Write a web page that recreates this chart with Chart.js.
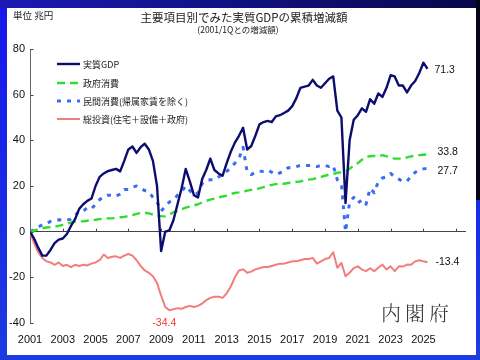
<!DOCTYPE html>
<html><head><meta charset="utf-8">
<script src="https://cdn.jsdelivr.net/npm/chart.js@4/dist/chart.umd.min.js"></script>
<style>
html,body{margin:0;padding:0;}
body{width:480px;height:360px;position:relative;overflow:hidden;background:linear-gradient(to bottom,#1616ec,#1c3ce0);}
#topband{position:absolute;left:0;top:0;width:480px;height:8px;background:linear-gradient(to right,#1a1ab4,#07074a);}
#rightstrip{position:absolute;left:476px;top:0;width:4px;height:200px;background:#05051a;}
#panel{position:absolute;left:7px;top:8px;width:469px;height:347px;background:#fff;}
canvas{position:absolute;left:0;top:0;}
.t{position:absolute;font-family:"Noto Sans CJK JP",sans-serif;color:#222;white-space:nowrap;line-height:1;}
#unit{left:13px;top:11px;font-size:9.5px;}
#title{left:0;width:488px;text-align:center;top:12px;font-size:11.5px;}
#subtitle{left:0;width:476px;text-align:center;top:25px;font-size:8.5px;}
#cao{left:381px;top:303px;font-size:20px;letter-spacing:4px;color:#333;font-family:"Noto Serif CJK JP","Noto Sans CJK JP",serif;font-weight:300;}
</style></head>
<body>
<div id="topband"></div><div id="rightstrip"></div><div id="panel"></div>
<canvas id="c" width="480" height="360"></canvas>
<div class="t" id="unit">単位 兆円</div>
<div class="t" id="title">主要項目別でみた実質GDPの累積増減額</div>
<div class="t" id="subtitle">(2001/1Qとの増減額)</div>
<div class="t" id="cao">内閣府</div>
<script>
const startYear = 2001; // 2001 Q1, quarterly series
const seriesNames = ['実質GDP', '政府消費', '民間消費(帰属家賃を除く)', '総投資(住宅＋設備＋政府)'];
const tickYears = [2001,2003,2005,2007,2009,2011,2013,2015,2017,2019,2021,2023,2025,2027];
const yTicks = [-40,-20,0,20,40,60,80];

const gdp = [
 0,-3,-7,-10.5, -10.5,-8,-5,-3.5, -3,-1,2.5,5.5, 10,12,13.5,14.5,
 20,24,25.5,26.5, 27,27.5,26.4,31, 36,37.3,34.5,37, 38.5,36,31,20,
 -8.5,0,0.5,5, 12,19,27.5,22, 16,15,23,27, 32,27,25.5,24.5,
 30,35,39,42, 45.5,36,37.5,42, 47,48,48.5,48, 50.5,51,52,53,
 55,58.5,63,63.5, 64,66.5,64,63, 65,67,68,53, 50,12.5,40,49,
 51,54,52.5,58, 56,60.5,59,63, 68.5,68,64,64, 61,64,66,69.5,
 74,71.3
];
const govConsumption = [
 0,0.5,1,1.5, 1.8,2,2.3,2.5, 3,3.5,4,4.3, 4.5,4.5,4.8,5,
 5.2,5.5,5.7,5.8, 5.8,6,6.3,6.5, 6.8,7.2,7.8,8.2, 8.3,8,7.5,7,
 6.8,6.7,7.5,8.5, 9,9.8,10.5,11, 11.5,12,12.8,13.5, 14,14.5,15,15.4,
 15.8,16.5,17,17.2, 17.5,18,18.3,18.5, 19,19.5,20,20.5, 20.8,21,21,21.3,
 21.5,21.8,22,22.5, 22.8,23,23.5,24, 24.5,25,25.3,25.8, 26,26.4,27.5,29,
 30,31.5,32.8,33, 33.2,33,33.5,33, 32.5,32,32,32, 32.5,33,33.2,33.5,
 33.7,33.8
];
const privateConsumption = [
 0,1,2,3, 3.5,4.5,5,5.2, 5,5,5.5,7, 9,9,10.5,10,
 12,14,15.5,16, 16,15.5,16.5,18.5, 18.5,19.5,20,19, 18,17.5,15,13,
 9,11,13,14, 16,17.5,20,18, 16,17,21,22.5, 22.7,22.7,24,25,
 26.4,28,30,32, 37,26,25,26, 26.4,26.5,27,26, 25,25.8,26.5,28,
 28,28.5,29,29, 29,29,28.5,29, 29,28.5,29,22.7, 21,0,13,15,
 12.5,14,12,19, 17,22,23.5,24, 25.5,24,23,22, 22,24.5,26,27,
 27.5,27.7
];
const investment = [
 0,-5,-9,-11.5, -13,-13.5,-14.5,-13.5, -15,-14.5,-15.5,-14.5, -15,-14.5,-14.8,-14,
 -13.5,-12.5,-10,-11.5, -11,-10.8,-11.5,-10.5, -9.8,-10.5,-12.5,-15, -17,-18,-19.5,-22.5,
 -28,-33,-34.4,-34, -33.5,-33.8,-33,-32.5, -33,-32.5,-31.5,-30, -29,-28.5,-28.5,-29,
 -27,-24,-20,-17, -16.5,-18,-17.5,-16.5, -16,-15.5,-15.5,-15, -14.5,-14,-14,-13.5,
 -13,-13,-12.5,-12, -12,-11.5,-14,-13, -12,-11.5,-9,-15.8, -13.7,-19.5,-18,-16,
 -15.2,-16.6,-17.3,-16, -17.3,-15.8,-14.4,-16.6, -15.2,-17.3,-15.2,-15.3, -14.4,-14.5,-13,-12.5,
 -13,-13.4
];

const toPoints = arr => arr.map((v, i) => ({x: startYear + i / 4, y: v}));
const numFont = '"Liberation Sans Narrow","Arial Narrow",sans-serif';
const jpFont = '"Noto Sans CJK JP",sans-serif';

const endLabelOffsets = [{dx:7,dy:1},{dx:10,dy:-2},{dx:10,dy:3},{dx:8,dy:0}];
const legendRows = [64, 83, 101, 119];

const decor = {
  id: 'decor',
  afterDatasetsDraw(chart) {
    const c = chart.ctx, xs = chart.scales.x, ys = chart.scales.y;
    const y0 = ys.getPixelForValue(0);
    c.save();
    c.strokeStyle = '#444'; c.lineWidth = 1;
    tickYears.forEach(v => {
      if (v === startYear) return;
      const px = Math.round(xs.getPixelForValue(v)) + 0.5;
      c.beginPath(); c.moveTo(px, y0 - 3); c.lineTo(px, y0); c.stroke();
    });
    const xl = Math.round(xs.left) + 0.5;
    yTicks.forEach(v => {
      const py = Math.round(ys.getPixelForValue(v)) + 0.5;
      c.beginPath(); c.moveTo(xl, py); c.lineTo(xl + 3, py); c.stroke();
    });
    chart.data.datasets.forEach((ds, i) => {
      const y = legendRows[i];
      c.strokeStyle = ds.borderColor; c.lineWidth = ds.borderWidth;
      c.setLineDash(ds.borderDash || []);
      c.beginPath(); c.moveTo(57, y); c.lineTo(80, y); c.stroke();
      c.setLineDash([]);
      c.fillStyle = '#222'; c.font = '9px ' + jpFont;
      c.textBaseline = 'middle'; c.textAlign = 'left';
      c.fillText(ds.label, 83, y + 0.5);
    });
    c.font = '10.5px ' + numFont; c.fillStyle = '#111';
    chart.data.datasets.forEach((ds, i) => {
      const last = ds.data[ds.data.length - 1];
      const px = xs.getPixelForValue(last.x), py = ys.getPixelForValue(last.y);
      const o = endLabelOffsets[i];
      c.fillText(last.y.toFixed(1), px + o.dx, py + o.dy);
    });
    const inv = chart.data.datasets[3].data;
    let m = inv[0];
    inv.forEach(p => { if (p.y < m.y) m = p; });
    c.fillStyle = '#e83a30'; c.textAlign = 'center';
    c.fillText(m.y.toFixed(1), xs.getPixelForValue(m.x) - 5, ys.getPixelForValue(m.y) + 13);
    c.restore();
  }
};

new Chart(document.getElementById('c'), {
  type: 'line',
  data: {
    datasets: [
      {label: seriesNames[0], data: toPoints(gdp), borderColor: '#0d0d70', borderWidth: 2.4},
      {label: seriesNames[1], data: toPoints(govConsumption), borderColor: '#2ede2e', borderWidth: 2.4, borderDash: [8, 5]},
      {label: seriesNames[2], data: toPoints(privateConsumption), borderColor: '#3a6ef0', borderWidth: 3, borderDash: [4, 6]},
      {label: seriesNames[3], data: toPoints(investment), borderColor: '#f27d7d', borderWidth: 2}
    ]
  },
  options: {
    responsive: false, animation: false,
    layout: {padding: {left: 0, right: 14, top: 49, bottom: 0}},
    elements: {point: {radius: 0}, line: {tension: 0, borderJoinStyle: 'round'}},
    plugins: {legend: {display: false}, tooltip: {enabled: false}},
    scales: {
      x: {
        type: 'linear', min: 2001, max: 2027.6,
        afterBuildTicks: ax => { ax.ticks = tickYears.map(v => ({value: v})); },
        afterFit: ax => { ax.height = 37; },
        grid: {display: false, drawTicks: false},
        border: {display: false},
        ticks: {padding: 10, maxRotation: 0, autoSkip: false, color: '#111',
          font: {family: numFont, size: 11},
          callback: v => (v <= 2025 ? String(v) : '')}
      },
      y: {
        min: -40, max: 80,
        afterBuildTicks: ax => { ax.ticks = yTicks.map(v => ({value: v})); },
        afterFit: ax => { ax.width = 30; },
        grid: {drawTicks: false, lineWidth: 1,
          color: ctx => (ctx.tick && ctx.tick.value === 0 ? '#444' : 'rgba(0,0,0,0)')},
        border: {display: true, color: '#666', width: 1},
        ticks: {padding: 5, color: '#111', font: {family: numFont, size: 11}}
      }
    }
  },
  plugins: [decor]
});
</script>
</body></html>
